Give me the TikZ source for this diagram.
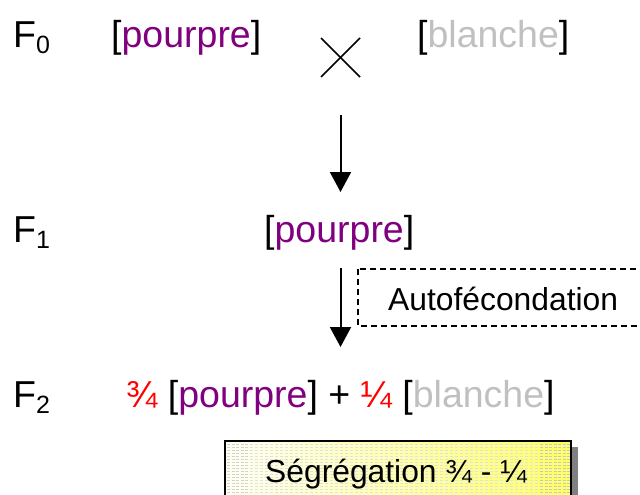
\documentclass[tikz,border=0pt]{standalone}
\usepackage{fontspec}
\setmainfont{Liberation Sans}
\usetikzlibrary{arrows.meta}
\definecolor{pourpre}{HTML}{800080}
\definecolor{blanc}{HTML}{C0C0C0}
\definecolor{frac}{HTML}{FF0000}
\newcommand{\bigtxt}{\fontsize{37.5}{42}\selectfont}
\newcommand{\midtxt}{\fontsize{31.8}{36}\selectfont}
\newcommand{\gen}[1]{F\raisebox{-6pt}{\fontsize{25}{27}\selectfont #1}}
\begin{document}
\begin{tikzpicture}[x=1pt,y=-1pt,
  lbl/.style={inner sep=0pt,anchor=base west,font=\bigtxt},
  flow/.style={line width=2pt,-{Triangle[width=21pt,length=20pt]}},
  crossline/.style={line width=1.6pt},
  dashbox/.style={draw,line width=1.4pt,dash pattern=on 6pt off 4pt},
  yellowbox/.style={draw,line width=1.6pt,left color=yellow!6,right color=yellow!55}]
\useasboundingbox (0,0) rectangle (640,495);

% generation labels
\node[lbl] (f0) at (13,48) {\gen{0}};
\node[lbl] (f1) at (13,242) {\gen{1}};
\node[lbl] (f2) at (13,407) {\gen{2}};

% parents
\node[lbl] (p0) at (111,48) {[\textcolor{pourpre}{pourpre}]};
\node[lbl] (b0) at (417,48) {[\textcolor{blanc}{blanche}]};

% cross sign
\coordinate (xc) at (340.5,57.5);
\draw[crossline] ([shift={(-19.5,-19.5)}]xc) -- ([shift={(19.5,19.5)}]xc);
\draw[crossline] ([shift={(19.5,-19.5)}]xc) -- ([shift={(-19.5,19.5)}]xc);

% first generation
\node[lbl] (p1) at (264,242) {[\textcolor{pourpre}{pourpre}]};

% second generation
\node[lbl] (p2) at (126,407) {\textcolor{frac}{¾} [\textcolor{pourpre}{pourpre}] + \textcolor{frac}{¼} [\textcolor{blanc}{blanche}]};

% arrows between generations
\coordinate (a1s) at (340.5,115);
\coordinate (a1e) at (340.5,192);
\coordinate (a2s) at (340.5,268);
\coordinate (a2e) at (340.5,347);
\draw[flow] (a1s) -- (a1e);
\draw[flow] (a2s) -- (a2e);

% self-fertilisation label
\draw[dashbox] (358,269) rectangle (650,326);
\node[inner sep=0pt,anchor=base west,font=\midtxt] (auto) at (388,310) {Autofécondation};

% segregation box with shadow and stripes
\fill[black!50] (571,447) rectangle (578,500);
\shade[left color=yellow!4,right color=yellow!60] (225,441) rectangle (571,500);
\begin{scope}
  \clip (225,441) rectangle (571,500);
  \foreach \yy in {444,447,...,498}{
    \draw[black!18,line width=0.7pt,dash pattern=on 3pt off 1.5pt] (227,\yy) -- (250,\yy);
    \draw[black!12,line width=0.7pt,dash pattern=on 3pt off 2pt] (250,\yy) -- (540,\yy);
    \draw[black!22,line width=0.7pt,dash pattern=on 3pt off 1.5pt] (540,\yy) -- (571,\yy);
  }
\end{scope}
\draw[line width=1.6pt] (225,500) -- (225,441) -- (571,441) -- (571,500);
\node[inner sep=0pt,anchor=base,font=\midtxt] (seg) at (396,482) {Ségrégation ¾ - ¼};
\end{tikzpicture}
\end{document}
